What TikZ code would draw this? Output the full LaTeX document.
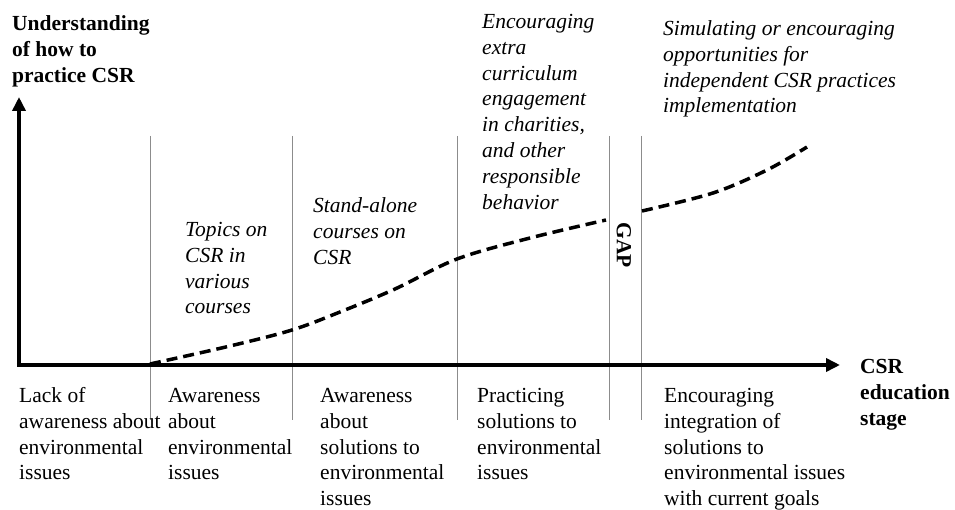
\documentclass[tikz,border=0pt]{standalone}
\usepackage{fontspec}
\setmainfont{Liberation Serif}
\usetikzlibrary{arrows.meta}
\tikzset{
  lbl/.style={inner sep=0pt, anchor=north west, align=left, font=\fontsize{21.5}{25.8}\selectfont},
  ital/.style={lbl, font=\fontsize{21.5}{25.8}\selectfont\itshape},
  bold/.style={lbl, font=\fontsize{21.5}{25.8}\selectfont\bfseries},
  axis/.style={line width=4.5pt, -{Triangle[length=14pt,width=13pt]}},
  divider/.style={draw=black!45, line width=0.9pt},
  trend/.style={line width=3.5pt, dash pattern=on 11pt off 6pt},
}
\begin{document}
\begin{tikzpicture}[x=1pt,y=-1pt]
\useasboundingbox (0,0) rectangle (955,510);
% key points
\coordinate (O) at (19,365);
\coordinate (ytop) at (19,97);
\coordinate (xend) at (840,365);
% dividers
\foreach \x/\n in {150/a,292/b,457/c,609/d,641/e}{
  \coordinate (t\n) at (\x,136);
  \coordinate (b\n) at (\x,420);
  \draw[divider] (t\n) -- (b\n);
}
% axes
\draw[axis] (O) -- (ytop);
\draw[axis] ([xshift=-2.25pt]O) -- (xend);
% trend curves
\draw[trend] plot[smooth, tension=0.55] coordinates {(150,364) (230,346) (292,330) (340,312) (395,289) (457,259) (530,238) (606,220)};
\draw[trend] plot[smooth, tension=0.55] coordinates {(642,211) (713,193) (767,170) (807,147)};
% axis titles
\node[bold] (ytitle) at (12,12.2) {\strut Understanding\\of how to\\practice CSR};
\node[bold] (xtitle) at (860,355.2) {\strut CSR\\education\\stage};
% bottom stage labels
\node[lbl] (s1) at (19,384.2) {\strut Lack of\\awareness about\\environmental\\issues};
\node[lbl] (s2) at (168,384.2) {\strut Awareness\\about\\environmental\\issues};
\node[lbl] (s3) at (320,384.2) {\strut Awareness\\about\\solutions to\\environmental\\issues};
\node[lbl] (s4) at (477,384.2) {\strut Practicing\\solutions to\\environmental\\issues};
\node[lbl] (s5) at (664,384.2) {\strut Encouraging\\integration of\\solutions to\\environmental issues\\with current goals};
% italic activity labels
\node[ital] (a1) at (185,218.2) {\strut Topics on\\CSR in\\various\\courses};
\node[ital] (a2) at (313,194.2) {\strut Stand-alone\\courses on\\CSR};
\node[ital] (a3) at (482,10.2) {\strut Encouraging\\extra\\curriculum\\engagement\\in charities,\\and other\\responsible\\behavior};
\node[ital] (a4) at (663,17.2) {\strut Simulating or encouraging\\opportunities for\\independent CSR practices\\implementation};
% gap
\node[inner sep=0pt, rotate=-90, font=\fontsize{21.5}{25.8}\selectfont\bfseries] (gap) at (624,245) {GAP};
\end{tikzpicture}
\end{document}
